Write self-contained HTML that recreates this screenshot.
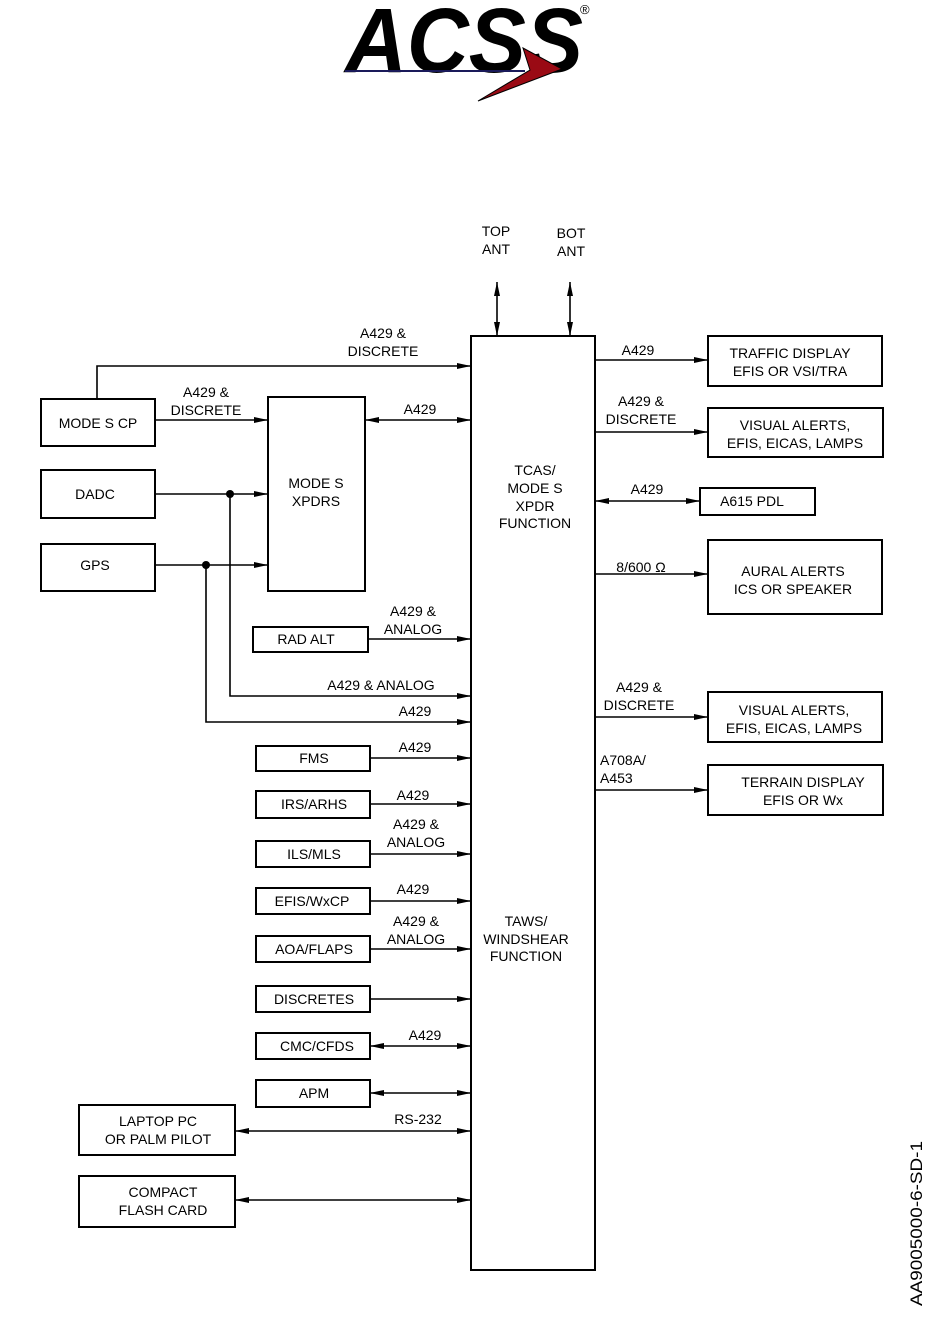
<!DOCTYPE html>
<html><head><meta charset="utf-8"><style>
html,body{margin:0;padding:0;background:#fff;}
svg{display:block;}
text{font-family:"Liberation Sans",Arial,sans-serif;font-size:14px;fill:#000;}
</style></head><body>
<svg width="937" height="1320" viewBox="0 0 937 1320" xmlns="http://www.w3.org/2000/svg">
<defs>
<marker id="a" markerWidth="14" markerHeight="8" refX="14" refY="4" orient="auto" markerUnits="userSpaceOnUse"><path d="M0,1 L14,4 L0,7 Z" fill="#000"/></marker>
<marker id="s" markerWidth="14" markerHeight="8" refX="0" refY="4" orient="auto" markerUnits="userSpaceOnUse"><path d="M14,1 L0,4 L14,7 Z" fill="#000"/></marker>
</defs>
<!-- logo -->
<text x="345" y="72" textLength="238" lengthAdjust="spacingAndGlyphs" style="font-size:92px;font-weight:bold;font-style:italic">ACSS</text>
<text x="580" y="14" style="font-size:13px">®</text>
<line x1="345" y1="71" x2="525" y2="71" stroke="#1a1a5a" stroke-width="2"/>
<polygon points="523,48 562,69 478,101 530,70" fill="#9a0a14" stroke="#000" stroke-width="1"/>

<g fill="none" stroke="#000" stroke-width="2">
<rect x="471" y="336" width="124" height="934"/>
<rect x="41" y="399" width="114" height="47"/>
<rect x="268" y="397" width="97" height="194"/>
<rect x="41" y="470" width="114" height="48"/>
<rect x="41" y="544" width="114" height="47"/>
<rect x="253" y="627" width="115" height="25"/>
<rect x="256" y="746" width="114" height="25"/>
<rect x="256" y="791" width="114" height="27"/>
<rect x="256" y="841" width="114" height="26"/>
<rect x="256" y="888" width="114" height="26"/>
<rect x="256" y="936" width="114" height="26"/>
<rect x="256" y="986" width="114" height="26"/>
<rect x="256" y="1033" width="114" height="26"/>
<rect x="256" y="1080" width="114" height="27"/>
<rect x="79" y="1105" width="156" height="50"/>
<rect x="79" y="1176" width="156" height="51"/>
<rect x="708" y="336" width="174" height="50"/>
<rect x="708" y="408" width="175" height="49"/>
<rect x="700" y="488" width="115" height="27"/>
<rect x="708" y="540" width="174" height="74"/>
<rect x="708" y="692" width="174" height="50"/>
<rect x="708" y="765" width="175" height="50"/>
</g>

<g fill="none" stroke="#000" stroke-width="1.6">
<line x1="497" y1="282" x2="497" y2="336" marker-start="url(#s)" marker-end="url(#a)"/>
<line x1="570" y1="282" x2="570" y2="336" marker-start="url(#s)" marker-end="url(#a)"/>
<polyline points="97,398 97,366 471,366" marker-end="url(#a)"/>
<line x1="155" y1="420" x2="268" y2="420" marker-end="url(#a)"/>
<line x1="365" y1="420" x2="471" y2="420" marker-start="url(#s)" marker-end="url(#a)"/>
<line x1="155" y1="494" x2="268" y2="494" marker-end="url(#a)"/>
<line x1="155" y1="565" x2="268" y2="565" marker-end="url(#a)"/>
<line x1="368" y1="639" x2="471" y2="639" marker-end="url(#a)"/>
<polyline points="230,494 230,696 471,696" marker-end="url(#a)"/>
<polyline points="206,565 206,722 471,722" marker-end="url(#a)"/>
<line x1="370" y1="758" x2="471" y2="758" marker-end="url(#a)"/>
<line x1="370" y1="804" x2="471" y2="804" marker-end="url(#a)"/>
<line x1="370" y1="854" x2="471" y2="854" marker-end="url(#a)"/>
<line x1="370" y1="901" x2="471" y2="901" marker-end="url(#a)"/>
<line x1="370" y1="949" x2="471" y2="949" marker-end="url(#a)"/>
<line x1="370" y1="999" x2="471" y2="999" marker-end="url(#a)"/>
<line x1="370" y1="1046" x2="471" y2="1046" marker-start="url(#s)" marker-end="url(#a)"/>
<line x1="370" y1="1093" x2="471" y2="1093" marker-start="url(#s)" marker-end="url(#a)"/>
<line x1="235" y1="1131" x2="471" y2="1131" marker-start="url(#s)" marker-end="url(#a)"/>
<line x1="235" y1="1200" x2="471" y2="1200" marker-start="url(#s)" marker-end="url(#a)"/>
<line x1="595" y1="360" x2="708" y2="360" marker-end="url(#a)"/>
<line x1="595" y1="432" x2="708" y2="432" marker-end="url(#a)"/>
<line x1="595" y1="501" x2="700" y2="501" marker-start="url(#s)" marker-end="url(#a)"/>
<line x1="595" y1="574" x2="708" y2="574" marker-end="url(#a)"/>
<line x1="595" y1="717" x2="708" y2="717" marker-end="url(#a)"/>
<line x1="595" y1="790" x2="708" y2="790" marker-end="url(#a)"/>
</g>
<circle cx="230" cy="494" r="4" fill="#000"/>
<circle cx="206" cy="565" r="4" fill="#000"/>

<g text-anchor="middle">
<text x="496" y="236">TOP</text><text x="496" y="254">ANT</text>
<text x="571" y="238">BOT</text><text x="571" y="256">ANT</text>
<text x="383" y="338">A429 &amp;</text><text x="383" y="356">DISCRETE</text>
<text x="98" y="428">MODE S CP</text>
<text x="206" y="397">A429 &amp;</text><text x="206" y="415">DISCRETE</text>
<text x="420" y="414">A429</text>
<text x="316" y="488">MODE  S</text><text x="316" y="506">XPDRS</text>
<text x="95" y="499">DADC</text>
<text x="95" y="570">GPS</text>
<text x="306" y="644">RAD ALT</text>
<text x="413" y="616">A429 &amp;</text><text x="413" y="634">ANALOG</text>
<text x="381" y="690">A429 &amp; ANALOG</text>
<text x="415" y="716">A429</text>
<text x="314" y="763">FMS</text><text x="415" y="752">A429</text>
<text x="314" y="809">IRS/ARHS</text><text x="413" y="800">A429</text>
<text x="314" y="859">ILS/MLS</text><text x="416" y="829">A429 &amp;</text><text x="416" y="847">ANALOG</text>
<text x="312" y="906">EFIS/WxCP</text><text x="413" y="894">A429</text>
<text x="314" y="954">AOA/FLAPS</text><text x="416" y="926">A429 &amp;</text><text x="416" y="944">ANALOG</text>
<text x="314" y="1004">DISCRETES</text>
<text x="317" y="1051">CMC/CFDS</text><text x="425" y="1040">A429</text>
<text x="314" y="1098">APM</text>
<text x="158" y="1126">LAPTOP PC</text><text x="158" y="1144">OR PALM PILOT</text><text x="418" y="1124">RS-232</text>
<text x="163" y="1197">COMPACT</text><text x="163" y="1215">FLASH CARD</text>
<text x="535" y="475">TCAS/</text><text x="535" y="493">MODE S</text><text x="535" y="511">XPDR</text><text x="535" y="528">FUNCTION</text>
<text x="526" y="926">TAWS/</text><text x="526" y="944">WINDSHEAR</text><text x="526" y="961">FUNCTION</text>
<text x="638" y="355">A429</text>
<text x="790" y="358">TRAFFIC DISPLAY</text><text x="790" y="376">EFIS OR VSI/TRA</text>
<text x="641" y="406">A429 &amp;</text><text x="641" y="424">DISCRETE</text>
<text x="795" y="430">VISUAL ALERTS,</text><text x="795" y="448">EFIS, EICAS, LAMPS</text>
<text x="647" y="494">A429</text><text x="752" y="506">A615 PDL</text>
<text x="641" y="572">8/600  Ω</text>
<text x="793" y="576">AURAL ALERTS</text><text x="793" y="594">ICS OR SPEAKER</text>
<text x="639" y="692">A429 &amp;</text><text x="639" y="710">DISCRETE</text>
<text x="794" y="715">VISUAL ALERTS,</text><text x="794" y="733">EFIS, EICAS, LAMPS</text>
<text x="803" y="787">TERRAIN DISPLAY</text><text x="803" y="805">EFIS OR Wx</text>
</g>
<text x="600" y="765">A708A/</text><text x="600" y="783">A453</text>
<text transform="translate(922,1306) rotate(-90)" textLength="165" lengthAdjust="spacingAndGlyphs" style="font-size:17px">AA9005000-6-SD-1</text>
</svg>
</body></html>
